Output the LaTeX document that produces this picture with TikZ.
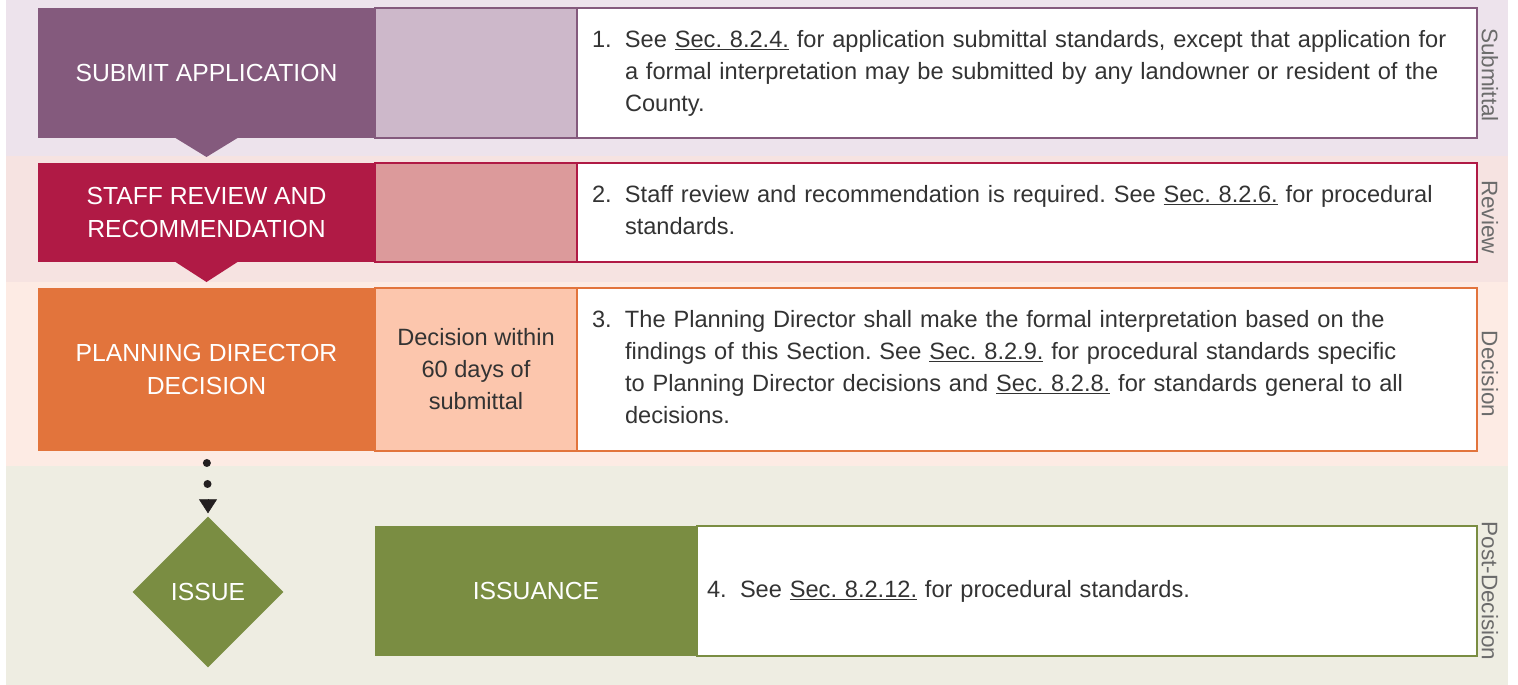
\documentclass[tikz,border=0pt]{standalone}
\usepackage{fontspec}
\setmainfont{Liberation Sans}
\usetikzlibrary{positioning,shapes.geometric,arrows.meta}
\frenchspacing

\definecolor{subdark}{HTML}{845A7D}
\definecolor{sublight}{HTML}{CDB8CA}
\definecolor{subband}{HTML}{EDE3EC}
\definecolor{revdark}{HTML}{B01A45}
\definecolor{revlight}{HTML}{DC9A9B}
\definecolor{revband}{HTML}{F6E3E1}
\definecolor{decdark}{HTML}{E2743C}
\definecolor{declight}{HTML}{FCC6AD}
\definecolor{decband}{HTML}{FDEBE4}
\definecolor{postdark}{HTML}{7A8D42}
\definecolor{postband}{HTML}{EEEDE2}
\definecolor{bodygray}{HTML}{333333}
\definecolor{sidegray}{HTML}{6B6B6B}
\definecolor{arrowblack}{HTML}{231F20}

\newcommand{\headfont}{\fontsize{24.7pt}{33pt}\selectfont}
\newcommand{\bodyfont}{\fontsize{23.6pt}{32pt}\selectfont}
\newcommand{\sidefont}{\fontsize{22.5pt}{26pt}\selectfont}
\newcommand{\notenum}[2]{\makebox[33pt][l]{#1}\begin{tabular}[t]{@{}l@{}}#2\end{tabular}}
\newcommand{\secref}[1]{\underline{#1}}

\tikzset{
  cell/.style={rectangle, inner sep=0pt, outer sep=0pt},
  headcell/.style={cell, anchor=north west, minimum width=337pt, text=white, align=center, font=\headfont},
  timecell/.style={cell, minimum width=202pt, line width=2pt, text=bodygray, align=center, font=\bodyfont},
  notecell/.style={cell, fill=white, line width=2pt, inner xsep=15pt, text width=870pt, align=left, text=bodygray, font=\bodyfont},
  sidelabel/.style={rotate=-90, text=sidegray, font=\sidefont},
  dotlink/.style={draw=arrowblack, line width=8pt, line cap=round, dash pattern=on 0pt off 21pt, dash phase=9pt},
}

\begin{document}
\begin{tikzpicture}[x=1pt,y=-1pt]
\useasboundingbox (0,0) rectangle (1518,685);

% phase bands
\fill[subband] (6,0) rectangle (1508,156);
\fill[revband] (6,156) rectangle (1508,282);
\fill[decband] (6,282) rectangle (1508,466);
\fill[postband] (6,466) rectangle (1508,685);

% submittal
\node[headcell, fill=subdark, minimum height=130pt] (submit) at (38,8) {SUBMIT APPLICATION};
\node[timecell, draw=subdark, fill=sublight, minimum height=130pt, right=0pt of submit] (submittime) {};
\node[notecell, draw=subdark, minimum height=130pt, right=0pt of submittime] (submitnote)
  {\notenum{1.}{See \secref{Sec. 8.2.4.} for application submittal standards, except that application for\\
  a formal interpretation may be submitted by any landowner or resident of the\\ County.}};
\fill[subdark] ([xshift=-31pt]submit.south) -- ([xshift=31pt]submit.south) -- ([yshift=-19pt]submit.south) -- cycle;

% review
\node[headcell, fill=revdark, minimum height=99pt] (review) at (38,163) {STAFF REVIEW AND\\ RECOMMENDATION};
\node[timecell, draw=revdark, fill=revlight, minimum height=99pt, right=0pt of review] (reviewtime) {};
\node[notecell, draw=revdark, minimum height=99pt, right=0pt of reviewtime] (reviewnote)
  {\notenum{2.}{Staff review and recommendation is required. See \secref{Sec. 8.2.6.} for procedural\\ standards.}};
\fill[revdark] ([xshift=-31pt]review.south) -- ([xshift=31pt]review.south) -- ([yshift=-20pt]review.south) -- cycle;

% decision
\node[headcell, fill=decdark, minimum height=163pt] (plan) at (38,288) {PLANNING DIRECTOR\\ DECISION};
\node[timecell, draw=decdark, fill=declight, minimum height=163pt, right=0pt of plan] (plantime)
  {Decision within\\ 60 days of\\ submittal};
\node[notecell, draw=decdark, minimum height=163pt, right=0pt of plantime] (plannote)
  {\notenum{3.}{The Planning Director shall make the formal interpretation based on the\\
  findings of this Section. See \secref{Sec. 8.2.9.} for procedural standards specific\\
  to Planning Director decisions and \secref{Sec. 8.2.8.} for standards general to all\\ decisions.}};

% post-decision
\node[diamond, fill=postdark, inner sep=0pt, minimum width=151pt, minimum height=151pt,
  text=white, font=\headfont] (issue) at (208,592) {ISSUE};
\node[headcell, fill=postdark, minimum width=322pt, minimum height=130pt] (issuance) at (375,526) {ISSUANCE};
\node[notecell, draw=postdark, inner xsep=10pt, text width=760pt, minimum height=130pt, right=0pt of issuance] (issuancenote)
  {\notenum{4.}{See \secref{Sec. 8.2.12.} for procedural standards.}};

\draw[dotlink] (plan.south) -- ([yshift=17pt]issue.north);
\draw[draw=arrowblack, line width=0.5pt, -{Triangle[width=18pt,length=14pt]}]
  ([yshift=17pt]issue.north) -- ([yshift=3pt]issue.north);

% phase labels
\node[sidelabel] (lblsub) at (1490,75) {Submittal};
\node[sidelabel] (lblrev) at (1490,217) {Review};
\node[sidelabel] (lbldec) at (1490,374) {Decision};
\node[sidelabel] (lblpost) at (1490,591) {Post-Decision};
\end{tikzpicture}
\end{document}
